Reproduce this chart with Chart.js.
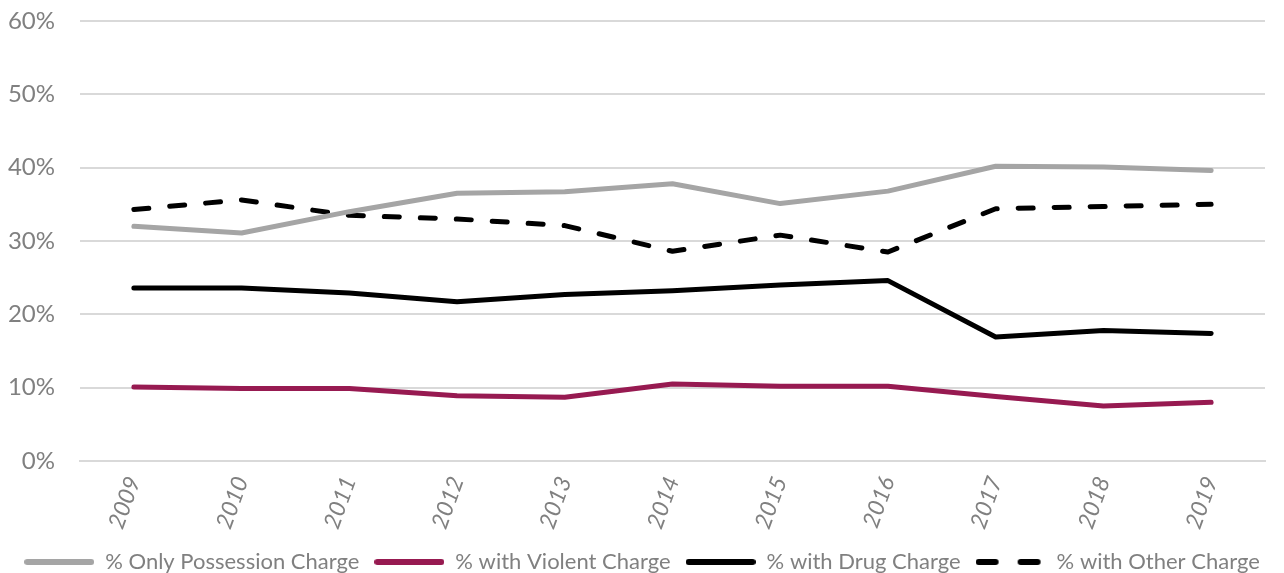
<!DOCTYPE html>
<html lang="en">
<head>
  <meta charset="UTF-8">
  <title>Charge Types 2009-2019</title>
  <style>
    body { margin: 0; background: #fff; }
    #wrap { width: 1284px; height: 573px; }
  </style>
  <script src="https://cdn.jsdelivr.net/npm/chart.js"></script>
</head>
<body>
  <div id="wrap"><canvas id="chart"></canvas></div>
  <script>
    // Share of cases by charge type, per year
    const years = ['2009', '2010', '2011', '2012', '2013', '2014', '2015', '2016', '2017', '2018', '2019'];
    const possessionOnly = [32.0, 31.1, 34.0, 36.5, 36.7, 37.8, 35.1, 36.8, 40.2, 40.1, 39.6];
    const violent = [10.1, 9.9, 9.9, 8.9, 8.7, 10.5, 10.2, 10.2, 8.8, 7.5, 8.0];
    const drug = [23.6, 23.6, 22.9, 21.7, 22.7, 23.2, 24.0, 24.6, 16.9, 17.8, 17.4];
    const other = [34.3, 35.6, 33.5, 33.0, 32.1, 28.6, 30.8, 28.5, 34.4, 34.7, 35.0];
    const yTicks = [0, 10, 20, 30, 40, 50, 60];

    const textColor = '#808080';
    const gridColor = '#d9d9d9';
    const fontFamily = 'Lato, "Open Sans", sans-serif';
    const lineWidth = 5;
    const legendWidth = 70;

    // small canvases used as legend symbols (solid or dashed stroke)
    const legendSymbol = (color, dashes) => {
      const c = document.createElement('canvas');
      c.width = legendWidth;
      c.height = 8;
      const g = c.getContext('2d');
      g.strokeStyle = color;
      g.lineWidth = 6;
      g.lineCap = 'round';
      g.beginPath();
      (dashes || [[0, legendWidth]]).forEach(([a, b]) => {
        g.moveTo(a + 3, 4);
        g.lineTo(b - 3, 4);
      });
      g.stroke();
      return c;
    };

    const line = (label, data, color, dash) => ({
      label,
      data,
      borderColor: color,
      backgroundColor: color,
      borderWidth: lineWidth,
      borderDash: dash || [],
      borderCapStyle: 'round',
      borderJoinStyle: 'round',
      pointRadius: 0,
      pointHoverRadius: 0,
      tension: 0,
      fill: false
    });

    const symbols = [
      legendSymbol('#a5a5a5'),
      legendSymbol('#971a51'),
      legendSymbol('#000000'),
      legendSymbol('#000000', [[0, 23], [42, 65]])
    ];

    const ctx = document.getElementById('chart').getContext('2d');
    new Chart(ctx, {
      type: 'line',
      data: {
        labels: years,
        datasets: [
          line('% Only Possession Charge', possessionOnly, '#a5a5a5'),
          line('% with Violent Charge', violent, '#971a51'),
          line('% with Drug Charge', drug, '#000000'),
          line('% with Other Charge', other, '#000000', [15, 21])
        ]
      },
      options: {
        responsive: true,
        maintainAspectRatio: false,
        animation: false,
        layout: { padding: { left: 0, right: 0, top: 21, bottom: -10 } },
        plugins: {
          tooltip: { enabled: false },
          legend: {
            position: 'bottom',
            labels: {
              usePointStyle: true,
              pointStyleWidth: legendWidth,
              padding: 15,
              color: textColor,
              font: { family: fontFamily, size: 22 },
              generateLabels: (chart) => {
                const items = Chart.defaults.plugins.legend.labels.generateLabels(chart);
                items.forEach((item, i) => { item.pointStyle = symbols[i]; });
                return items;
              }
            }
          }
        },
        scales: {
          x: {
            offset: true,
            grid: { display: false },
            border: { display: true, color: gridColor, width: 2 },
            ticks: {
              color: textColor,
              font: { family: fontFamily, size: 23, style: 'italic' },
              minRotation: 70,
              maxRotation: 70,
              padding: 4
            },
            afterFit: (scale) => {
              scale.height = 75;
              scale.paddingLeft = 0;
              scale.paddingRight = 0;
            }
          },
          y: {
            min: 0,
            max: 60,
            afterBuildTicks: (scale) => { scale.ticks = yTicks.map(v => ({ value: v })); },
            grid: { color: gridColor, lineWidth: 2, drawTicks: false },
            border: { display: false },
            ticks: {
              color: textColor,
              font: { family: fontFamily, size: 24 },
              padding: 25,
              callback: (v) => v + '%'
            },
            afterFit: (scale) => {
              scale.width = 80;
              scale.paddingTop = 0;
              scale.paddingBottom = 0;
            }
          },
          // empty strip on the right of the plot
          yRight: {
            position: 'right',
            grid: { display: false },
            border: { display: false },
            ticks: { display: false },
            afterFit: (scale) => {
              scale.width = 19;
              scale.paddingTop = 0;
              scale.paddingBottom = 0;
            }
          }
        }
      }
    });
  </script>
</body>
</html>
